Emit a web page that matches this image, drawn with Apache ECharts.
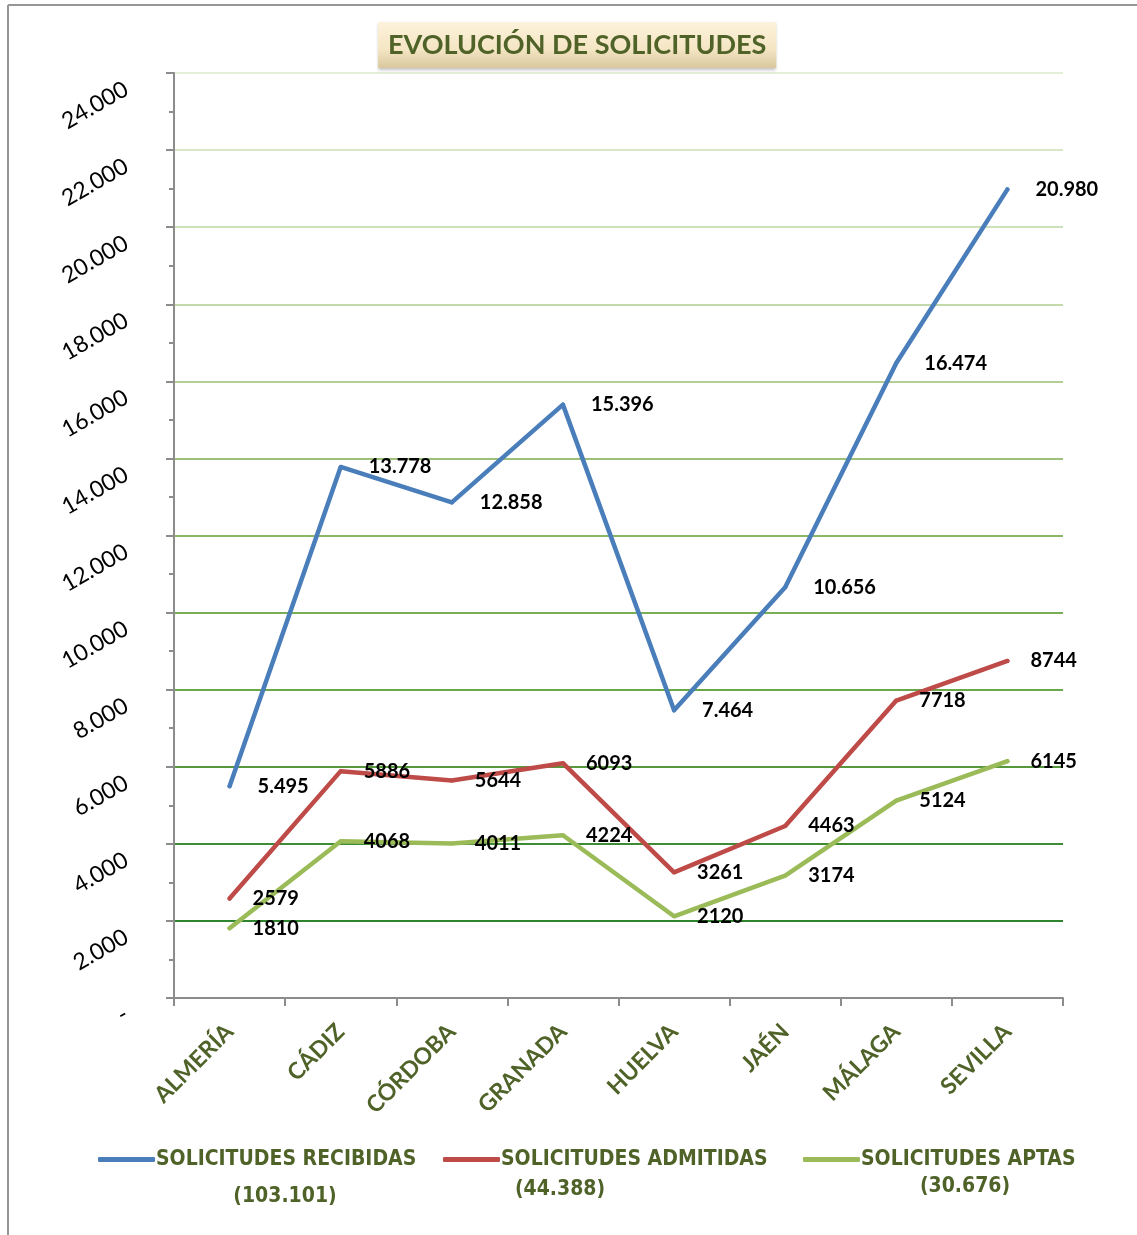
<!DOCTYPE html>
<html><head><meta charset="utf-8">
<script src="https://cdn.jsdelivr.net/npm/echarts@6/dist/echarts.min.js"></script>
<style>html,body{margin:0;padding:0;background:#fff}#c{width:1137px;height:1235px}</style>
</head><body><div id="c"></div>
<script>
// ---- data ----
const categories = ['ALMERÍA', 'CÁDIZ', 'CÓRDOBA', 'GRANADA', 'HUELVA', 'JAÉN', 'MÁLAGA', 'SEVILLA'];
const recibidas = [5495, 13778, 12858, 15396, 7464, 10656, 16474, 20980];
const admitidas = [2579, 5886, 5644, 6093, 3261, 4463, 7718, 8744];
const aptas = [1810, 4068, 4011, 4224, 2120, 3174, 5124, 6145];
const seriesNames = ['SOLICITUDES RECIBIDAS', 'SOLICITUDES ADMITIDAS', 'SOLICITUDES APTAS'];
const yMin = 0, yMax = 24000, yStep = 2000;
const titleText = 'EVOLUCIÓN DE SOLICITUDES';

// ---- helpers ----
const fmt = v => String(v).replace(/\B(?=(\d{3})+(?!\d))/g, '.');
const sum = a => a.reduce((s, v) => s + v, 0);

const OLIVE = '#4f6228';
const AXIS = '#8c8c8c';
const colors = ['#4a7ebb', '#be4b48', '#9bbb59'];
const gridColors = ['#2f8430', '#2f8430', '#3d8c33', '#55993c', '#6aa64a', '#7aae56', '#8ab766',
  '#9cc079', '#b3cf93', '#c2d9a9', '#cde0ba', '#d7e6c7', '#e4efd8'];
const legendFont = '"Liberation Sans Narrow", "DejaVu Sans Condensed", Roboto, sans-serif';

const chart = echarts.init(document.getElementById('c'), null, {renderer: 'canvas'});

function lineSeries(name, data, color, labelFmt, dist) {
  return {
    name, type: 'line', data,
    showSymbol: true, symbol: 'circle', symbolSize: 4,
    lineStyle: {color, width: 4.5, cap: 'round', join: 'round'},
    itemStyle: {color},
    label: {
      show: true, position: 'right', distance: dist, offset: [0, 4],
      formatter: p => labelFmt(p.value),
      fontFamily: 'Lato', fontWeight: 'bold', fontSize: 20, color: '#000'
    },
    labelLayout: {hideOverlap: false},
    emphasis: {disabled: true},
    z: 3
  };
}

const totals = [recibidas, admitidas, aptas].map(a => '(' + fmt(sum(a)) + ')');
const legendLefts = [98, 443, 803];
const totalPos = [[285, 1197], [560, 1190], [965, 1187]];

const option = {
  animation: false,
  title: {
    text: titleText,
    left: 378, top: 22,
    padding: [10, 10, 9, 10],
    backgroundColor: {
      type: 'linear', x: 0, y: 0, x2: 0, y2: 1,
      colorStops: [{offset: 0, color: '#fdf2dc'}, {offset: 0.6, color: '#f4e5c3'}, {offset: 1, color: '#d9c79e'}]
    },
    shadowColor: 'rgba(0,0,0,0.25)', shadowBlur: 3, shadowOffsetY: 2,
    textStyle: {fontFamily: 'Lato', fontWeight: 'bold', fontSize: 27, color: OLIVE}
  },
  legend: seriesNames.map((n, i) => ({
    data: [n], left: legendLefts[i], top: 1149, padding: 0,
    icon: 'roundRect', itemWidth: 57, itemHeight: 5, itemGap: 0,
    selectedMode: false,
    textStyle: {fontFamily: legendFont, fontWeight: 'bold', fontSize: 21, color: OLIVE, padding: [0, 0, 0, -4]}
  })),
  grid: {left: 174, right: 74, top: 73, bottom: 237, containLabel: false},
  xAxis: {
    type: 'category', data: categories, boundaryGap: true,
    axisLine: {lineStyle: {color: AXIS, width: 2}},
    axisTick: {show: true, length: 8, lineStyle: {color: AXIS, width: 2}},
    axisLabel: {
      interval: 0, rotate: 45, margin: 30,
      fontFamily: 'Lato', fontWeight: 'bold', fontSize: 23, color: OLIVE
    },
    splitLine: {show: false}
  },
  yAxis: {
    type: 'value', min: yMin, max: yMax, interval: yStep,
    axisLine: {show: true, lineStyle: {color: AXIS, width: 2}},
    axisTick: {show: true, length: 8, lineStyle: {color: AXIS, width: 2}},
    minorTick: {show: true, splitNumber: 2, length: 5, lineStyle: {color: AXIS, width: 2}},
    axisLabel: {
      rotate: 30, margin: 56, verticalAlign: 'top', padding: [5, 0, 0, 0],
      formatter: v => v === 0 ? '-' : fmt(v),
      fontFamily: 'Lato', fontSize: 23, color: '#000'
    },
    splitLine: {show: true, lineStyle: {color: gridColors, width: 2}}
  },
  series: [
    lineSeries(seriesNames[0], recibidas, colors[0], fmt, 26),
    lineSeries(seriesNames[1], admitidas, colors[1], v => String(v), 21),
    lineSeries(seriesNames[2], aptas, colors[2], v => String(v), 21)
  ],
  graphic: [
    {type: 'line', shape: {x1: 8, y1: 5, x2: 1137, y2: 5}, style: {stroke: '#969696', lineWidth: 2}, silent: true},
    {type: 'line', shape: {x1: 8, y1: 5, x2: 8, y2: 1235}, style: {stroke: '#969696', lineWidth: 2}, silent: true}
  ].concat(totals.map((t, i) => ({
    type: 'text', x: totalPos[i][0], y: totalPos[i][1], silent: true,
    style: {text: t, fill: OLIVE, fontFamily: legendFont, fontWeight: 'bold', fontSize: 21, align: 'center', verticalAlign: 'middle'}
  })))
};
chart.setOption(option);
</script>
</body></html>
